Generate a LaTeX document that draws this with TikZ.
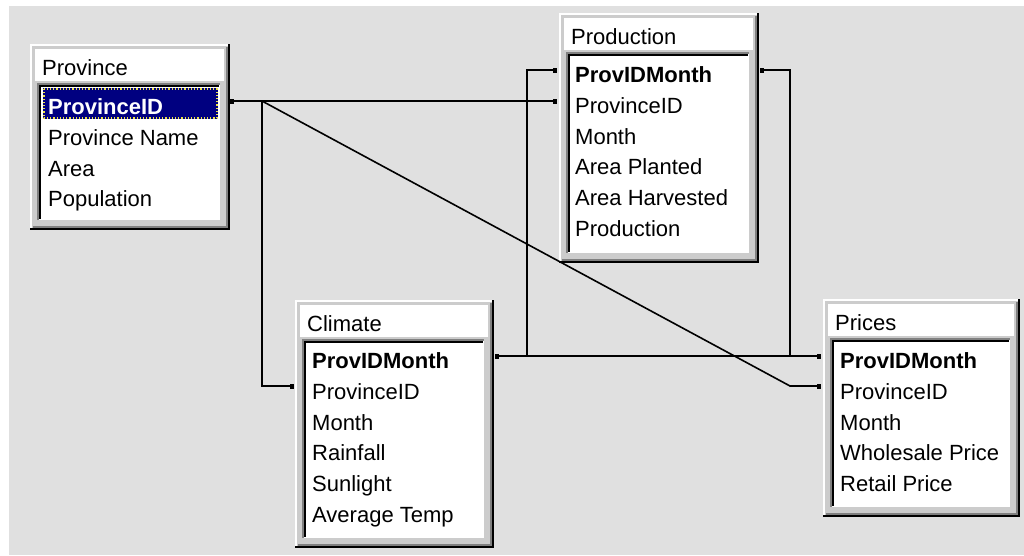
\documentclass[tikz,border=0pt]{standalone}
\usepackage{fontspec}
\setmainfont{Liberation Sans}
\usetikzlibrary{arrows.meta}
\definecolor{bgc}{RGB}{224,224,224}
\definecolor{framec}{RGB}{204,204,204}
\definecolor{shadowc}{RGB}{128,128,128}
\definecolor{navysel}{RGB}{0,0,128}
\definecolor{selborder}{RGB}{235,225,70}
\newcommand{\dbframe}[6]{% name, x0, y0, x1, y1, title
  \fill[framec] (#2,#3) rectangle (#4,#5);
  \draw[white,line width=2] (#2+1,#5-1) -- (#2+1,#3+1) -- (#4-1,#3+1);
  \draw[shadowc,line width=2] (#2+3,#5-3) -- (#4-3,#5-3) -- (#4-3,#3+3);
  \draw[black,line width=2] (#2,#5-1) -- (#4-1,#5-1) -- (#4-1,#3);
  \fill[white] (#2+5,#3+5) rectangle (#4-6,#3+37);
  \fill[white] (#2+9,#3+41) rectangle (#4-10,#5-10);
  \draw[shadowc,line width=1.5] (#2+8,#5-10) -- (#2+8,#3+40) -- (#4-10,#3+40);
  \draw[black,line width=2] (#2+10,#5-11) -- (#2+10,#3+42) -- (#4-11,#3+42);
  \node[ttl] (#1-title) at (#2+12,#3+31) {#6};
}
\newcommand{\dbrow}[6]{% name, x0, y0, index, text, extra style
  \node[fld,#6] (#1-#4) at (#2+16,#3+69.5+30.8*#4) {#5};
}
\begin{document}
\begin{tikzpicture}[x=1pt,y=-1pt,
  ttl/.style={anchor=base west,inner sep=0pt,font=\fontsize{22}{26}\selectfont,text=black},
  fld/.style={anchor=base west,inner sep=0pt,font=\fontsize{22}{26}\selectfont,text=black},
  keyfld/.style={font=\fontsize{22}{26}\selectfont\bfseries},
  rel/.style={black,line width=1.6pt,{Square[length=4pt,width=5pt]}-{Square[length=4pt,width=5pt]}}]
\useasboundingbox (0,0) rectangle (1024,555);
\fill[white] (0,0) rectangle (1024,555);
\fill[bgc] (9,6) rectangle (1024,555);

% Province
\dbframe{prov}{30}{44}{230}{230}{Province}
\fill[navysel] (43,88) rectangle (218,119);
\draw[selborder,dotted,line width=1.2] (44,89) rectangle (217,118);
\dbrow{prov}{32}{45}{0}{ProvinceID}{keyfld,text=white}
\dbrow{prov}{32}{45}{1}{Province Name}{}
\dbrow{prov}{32}{45}{2}{Area}{}
\dbrow{prov}{32}{45}{3}{Population}{}

% Production
\dbframe{prod}{559}{13}{759}{263}{Production}
\dbrow{prod}{559}{13}{0}{ProvIDMonth}{keyfld}
\dbrow{prod}{559}{13}{1}{ProvinceID}{}
\dbrow{prod}{559}{13}{2}{Month}{}
\dbrow{prod}{559}{13}{3}{Area Planted}{}
\dbrow{prod}{559}{13}{4}{Area Harvested}{}
\dbrow{prod}{559}{13}{5}{Production}{}

% Climate
\dbframe{clim}{295}{300}{494}{548}{Climate}
\dbrow{clim}{296}{299}{0}{ProvIDMonth}{keyfld}
\dbrow{clim}{296}{299}{1}{ProvinceID}{}
\dbrow{clim}{296}{299}{2}{Month}{}
\dbrow{clim}{296}{299}{3}{Rainfall}{}
\dbrow{clim}{296}{299}{4}{Sunlight}{}
\dbrow{clim}{296}{299}{5}{Average Temp}{}

% Prices
\dbframe{pric}{823}{299}{1020}{517}{Prices}
\dbrow{pric}{824}{299}{0}{ProvIDMonth}{keyfld}
\dbrow{pric}{824}{299}{1}{ProvinceID}{}
\dbrow{pric}{824}{299}{2}{Month}{}
\dbrow{pric}{824}{299}{3}{Wholesale Price}{}
\dbrow{pric}{824}{299}{4}{Retail Price}{}

% connection points
\coordinate (provPID-R) at (230,101);
\coordinate (prodPIDM-L) at (557,70);
\coordinate (prodPID-L) at (557,101);
\coordinate (prodPIDM-R) at (760,70);
\coordinate (climPIDM-R) at (495,356);
\coordinate (climPID-L) at (294,386);
\coordinate (pricPIDM-L) at (821,356);
\coordinate (pricPID-L) at (821,386);
\coordinate (j1) at (262,101);
\coordinate (j2) at (790,386);
\coordinate (j3) at (527,356);
\coordinate (j4) at (790,356);

% relationships
\draw[rel] (provPID-R) -- (prodPID-L);
\draw[rel] (provPID-R) -- (j1) |- (climPID-L);
\draw[rel] (provPID-R) -- (j1) -- (j2) -- (pricPID-L);
\draw[rel] (prodPIDM-L) -| (j3) -- (climPIDM-R);
\draw[rel] (prodPIDM-R) -| (j4) -- (pricPIDM-L);
\draw[rel] (climPIDM-R) -- (pricPIDM-L);
\end{tikzpicture}
\end{document}
